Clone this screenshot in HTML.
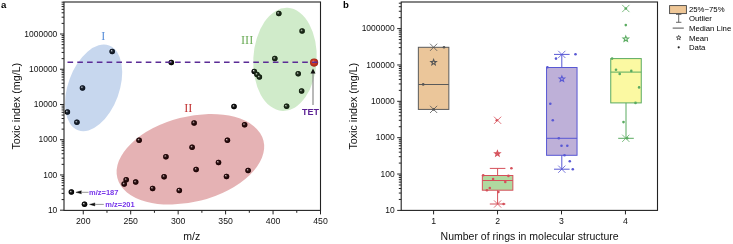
<!DOCTYPE html>
<html><head><meta charset="utf-8"><style>html,body{margin:0;padding:0;background:#fff;}svg{display:block;will-change:transform}</style></head>
<body><svg width="733" height="244" viewBox="0 0 733 244">
<rect width="733" height="244" fill="#fff"/>
<text x="103.3" y="39.8" font-family="Liberation Serif, serif" font-size="12.3" fill="#5a8fd9" text-anchor="middle">I</text>
<text x="188.3" y="111.8" font-family="Liberation Serif, serif" font-size="12.3" fill="#c23334" text-anchor="middle">II</text>
<text x="247.1" y="44.4" font-family="Liberation Serif, serif" font-size="12.3" fill="#6aab56" text-anchor="middle">III</text>
<defs><radialGradient id="bg" cx="0.5" cy="0.5" r="0.5" fx="0.34" fy="0.33"><stop offset="0" stop-color="#f2f2f2"/><stop offset="0.2" stop-color="#808080"/><stop offset="0.45" stop-color="#161616"/><stop offset="1" stop-color="#000"/></radialGradient>
<radialGradient id="rg" cx="0.5" cy="0.5" r="0.5" fx="0.36" fy="0.34"><stop offset="0" stop-color="#f2b8a8"/><stop offset="0.35" stop-color="#d2402a"/><stop offset="0.85" stop-color="#b02a1a"/><stop offset="1" stop-color="#982010"/></radialGradient></defs>
<circle cx="112.2" cy="51.5" r="2.75" fill="url(#bg)"/>
<circle cx="82.5" cy="87.9" r="2.75" fill="url(#bg)"/>
<circle cx="67.4" cy="112" r="2.75" fill="url(#bg)"/>
<circle cx="76.9" cy="122.3" r="2.75" fill="url(#bg)"/>
<circle cx="171.3" cy="62.5" r="2.75" fill="url(#bg)"/>
<circle cx="139.1" cy="140.2" r="2.75" fill="url(#bg)"/>
<circle cx="165.9" cy="156.7" r="2.75" fill="url(#bg)"/>
<circle cx="194.1" cy="122.9" r="2.75" fill="url(#bg)"/>
<circle cx="192.1" cy="147.2" r="2.75" fill="url(#bg)"/>
<circle cx="227.4" cy="140.3" r="2.75" fill="url(#bg)"/>
<circle cx="244.6" cy="124.8" r="2.75" fill="url(#bg)"/>
<circle cx="218.5" cy="162.5" r="2.75" fill="url(#bg)"/>
<circle cx="196.1" cy="169.5" r="2.75" fill="url(#bg)"/>
<circle cx="226.5" cy="176.4" r="2.75" fill="url(#bg)"/>
<circle cx="248.1" cy="170.5" r="2.75" fill="url(#bg)"/>
<circle cx="179.3" cy="190.5" r="2.75" fill="url(#bg)"/>
<circle cx="164.1" cy="176.7" r="2.75" fill="url(#bg)"/>
<circle cx="152.6" cy="188.4" r="2.75" fill="url(#bg)"/>
<circle cx="126.2" cy="179.8" r="2.75" fill="url(#bg)"/>
<circle cx="124.2" cy="184.1" r="2.75" fill="url(#bg)"/>
<circle cx="135.7" cy="182.1" r="2.75" fill="url(#bg)"/>
<circle cx="234" cy="106.6" r="2.75" fill="url(#bg)"/>
<circle cx="71.4" cy="192.1" r="2.75" fill="url(#bg)"/>
<circle cx="84.5" cy="204.3" r="2.75" fill="url(#bg)"/>
<circle cx="278.8" cy="13.5" r="2.75" fill="url(#bg)"/>
<circle cx="302.1" cy="31" r="2.75" fill="url(#bg)"/>
<circle cx="274.8" cy="58.6" r="2.75" fill="url(#bg)"/>
<circle cx="254.3" cy="71.4" r="2.75" fill="url(#bg)"/>
<circle cx="257.0" cy="74.5" r="2.75" fill="url(#bg)"/>
<circle cx="259.4" cy="77.1" r="2.75" fill="url(#bg)"/>
<circle cx="298.2" cy="73.8" r="2.75" fill="url(#bg)"/>
<circle cx="301.6" cy="91" r="2.75" fill="url(#bg)"/>
<circle cx="286.6" cy="106.3" r="2.75" fill="url(#bg)"/>
<ellipse cx="93.6" cy="87.9" rx="25.6" ry="45.2" transform="rotate(20 93.6 87.9)" fill="rgb(68,122,198)" fill-opacity="0.3"/>
<ellipse cx="190.4" cy="159.3" rx="75.4" ry="42.6" transform="rotate(-14.4 190.4 159.3)" fill="rgb(168,0,8)" fill-opacity="0.3"/>
<ellipse cx="285.0" cy="59.4" rx="31.7" ry="51.6" transform="rotate(3.0 285.0 59.4)" fill="rgb(98,188,78)" fill-opacity="0.3"/>
<g opacity="0.5">
<circle cx="112.2" cy="51.5" r="2.75" fill="url(#bg)"/>
<circle cx="82.5" cy="87.9" r="2.75" fill="url(#bg)"/>
<circle cx="67.4" cy="112" r="2.75" fill="url(#bg)"/>
<circle cx="76.9" cy="122.3" r="2.75" fill="url(#bg)"/>
<circle cx="171.3" cy="62.5" r="2.75" fill="url(#bg)"/>
<circle cx="139.1" cy="140.2" r="2.75" fill="url(#bg)"/>
<circle cx="165.9" cy="156.7" r="2.75" fill="url(#bg)"/>
<circle cx="194.1" cy="122.9" r="2.75" fill="url(#bg)"/>
<circle cx="192.1" cy="147.2" r="2.75" fill="url(#bg)"/>
<circle cx="227.4" cy="140.3" r="2.75" fill="url(#bg)"/>
<circle cx="244.6" cy="124.8" r="2.75" fill="url(#bg)"/>
<circle cx="218.5" cy="162.5" r="2.75" fill="url(#bg)"/>
<circle cx="196.1" cy="169.5" r="2.75" fill="url(#bg)"/>
<circle cx="226.5" cy="176.4" r="2.75" fill="url(#bg)"/>
<circle cx="248.1" cy="170.5" r="2.75" fill="url(#bg)"/>
<circle cx="179.3" cy="190.5" r="2.75" fill="url(#bg)"/>
<circle cx="164.1" cy="176.7" r="2.75" fill="url(#bg)"/>
<circle cx="152.6" cy="188.4" r="2.75" fill="url(#bg)"/>
<circle cx="126.2" cy="179.8" r="2.75" fill="url(#bg)"/>
<circle cx="124.2" cy="184.1" r="2.75" fill="url(#bg)"/>
<circle cx="135.7" cy="182.1" r="2.75" fill="url(#bg)"/>
<circle cx="234" cy="106.6" r="2.75" fill="url(#bg)"/>
<circle cx="71.4" cy="192.1" r="2.75" fill="url(#bg)"/>
<circle cx="84.5" cy="204.3" r="2.75" fill="url(#bg)"/>
<circle cx="278.8" cy="13.5" r="2.75" fill="url(#bg)"/>
<circle cx="302.1" cy="31" r="2.75" fill="url(#bg)"/>
<circle cx="274.8" cy="58.6" r="2.75" fill="url(#bg)"/>
<circle cx="254.3" cy="71.4" r="2.75" fill="url(#bg)"/>
<circle cx="257.0" cy="74.5" r="2.75" fill="url(#bg)"/>
<circle cx="259.4" cy="77.1" r="2.75" fill="url(#bg)"/>
<circle cx="298.2" cy="73.8" r="2.75" fill="url(#bg)"/>
<circle cx="301.6" cy="91" r="2.75" fill="url(#bg)"/>
<circle cx="286.6" cy="106.3" r="2.75" fill="url(#bg)"/>
</g>
<circle cx="314.1" cy="62.6" r="4.1" fill="url(#rg)"/>
<line x1="67.5" y1="62.2" x2="317.5" y2="62.2" stroke="#5b2b96" stroke-width="1.6" stroke-dasharray="5.6 4.18"/>
<line x1="313" y1="72.5" x2="313" y2="105" stroke="#8a8a8a" stroke-width="1.2"/>
<path d="M313 68.6 L310.5 73.4 L315.5 73.4 Z" fill="#111"/>
<text x="310.5" y="114.6" font-family="Liberation Sans, sans-serif" font-size="9" font-weight="bold" fill="#5a1f93" text-anchor="middle">TET</text>
<line x1="80" y1="192.3" x2="88.6" y2="192.3" stroke="#8c8c8c" stroke-width="0.9"/>
<path d="M75.9 192.3 L81.4 190.8 L81.0 192.3 L81.4 193.8 Z" fill="#0a0a0a" stroke="#0a0a0a" stroke-width="0.4" stroke-linejoin="round"/>
<text x="89" y="194.5" font-family="Liberation Sans, sans-serif" font-size="7.5" font-weight="bold" fill="#7634ea">m/z=187</text>
<line x1="93.5" y1="204.4" x2="103.8" y2="204.4" stroke="#8c8c8c" stroke-width="0.9"/>
<path d="M89.5 204.4 L95.0 202.9 L94.6 204.4 L95.0 205.9 Z" fill="#0a0a0a" stroke="#0a0a0a" stroke-width="0.4" stroke-linejoin="round"/>
<text x="105.3" y="206.7" font-family="Liberation Sans, sans-serif" font-size="7.5" font-weight="bold" fill="#7634ea">m/z=201</text>
<rect x="64.0" y="2.0" width="256.5" height="208.4" fill="none" stroke="#222" stroke-width="1.1"/>
<line x1="60.0" y1="210.20" x2="64.0" y2="210.20" stroke="#222" stroke-width="1"/>
<line x1="61.6" y1="199.59" x2="64.0" y2="199.59" stroke="#222" stroke-width="1"/>
<line x1="61.6" y1="193.39" x2="64.0" y2="193.39" stroke="#222" stroke-width="1"/>
<line x1="61.6" y1="188.98" x2="64.0" y2="188.98" stroke="#222" stroke-width="1"/>
<line x1="61.6" y1="185.57" x2="64.0" y2="185.57" stroke="#222" stroke-width="1"/>
<line x1="61.6" y1="182.78" x2="64.0" y2="182.78" stroke="#222" stroke-width="1"/>
<line x1="61.6" y1="180.42" x2="64.0" y2="180.42" stroke="#222" stroke-width="1"/>
<line x1="61.6" y1="178.38" x2="64.0" y2="178.38" stroke="#222" stroke-width="1"/>
<line x1="61.6" y1="176.57" x2="64.0" y2="176.57" stroke="#222" stroke-width="1"/>
<text transform="translate(57.3 212.85) scale(0.965 1)" font-family="Liberation Sans, sans-serif" font-size="8.8" fill="#111" text-anchor="end">10</text>
<line x1="60.0" y1="174.96" x2="64.0" y2="174.96" stroke="#222" stroke-width="1"/>
<line x1="61.6" y1="164.35" x2="64.0" y2="164.35" stroke="#222" stroke-width="1"/>
<line x1="61.6" y1="158.15" x2="64.0" y2="158.15" stroke="#222" stroke-width="1"/>
<line x1="61.6" y1="153.74" x2="64.0" y2="153.74" stroke="#222" stroke-width="1"/>
<line x1="61.6" y1="150.33" x2="64.0" y2="150.33" stroke="#222" stroke-width="1"/>
<line x1="61.6" y1="147.54" x2="64.0" y2="147.54" stroke="#222" stroke-width="1"/>
<line x1="61.6" y1="145.18" x2="64.0" y2="145.18" stroke="#222" stroke-width="1"/>
<line x1="61.6" y1="143.14" x2="64.0" y2="143.14" stroke="#222" stroke-width="1"/>
<line x1="61.6" y1="141.33" x2="64.0" y2="141.33" stroke="#222" stroke-width="1"/>
<text transform="translate(57.3 177.61) scale(0.965 1)" font-family="Liberation Sans, sans-serif" font-size="8.8" fill="#111" text-anchor="end">100</text>
<line x1="60.0" y1="139.72" x2="64.0" y2="139.72" stroke="#222" stroke-width="1"/>
<line x1="61.6" y1="129.11" x2="64.0" y2="129.11" stroke="#222" stroke-width="1"/>
<line x1="61.6" y1="122.91" x2="64.0" y2="122.91" stroke="#222" stroke-width="1"/>
<line x1="61.6" y1="118.50" x2="64.0" y2="118.50" stroke="#222" stroke-width="1"/>
<line x1="61.6" y1="115.09" x2="64.0" y2="115.09" stroke="#222" stroke-width="1"/>
<line x1="61.6" y1="112.30" x2="64.0" y2="112.30" stroke="#222" stroke-width="1"/>
<line x1="61.6" y1="109.94" x2="64.0" y2="109.94" stroke="#222" stroke-width="1"/>
<line x1="61.6" y1="107.90" x2="64.0" y2="107.90" stroke="#222" stroke-width="1"/>
<line x1="61.6" y1="106.09" x2="64.0" y2="106.09" stroke="#222" stroke-width="1"/>
<text transform="translate(57.3 142.37) scale(0.965 1)" font-family="Liberation Sans, sans-serif" font-size="8.8" fill="#111" text-anchor="end">1000</text>
<line x1="60.0" y1="104.48" x2="64.0" y2="104.48" stroke="#222" stroke-width="1"/>
<line x1="61.6" y1="93.87" x2="64.0" y2="93.87" stroke="#222" stroke-width="1"/>
<line x1="61.6" y1="87.67" x2="64.0" y2="87.67" stroke="#222" stroke-width="1"/>
<line x1="61.6" y1="83.26" x2="64.0" y2="83.26" stroke="#222" stroke-width="1"/>
<line x1="61.6" y1="79.85" x2="64.0" y2="79.85" stroke="#222" stroke-width="1"/>
<line x1="61.6" y1="77.06" x2="64.0" y2="77.06" stroke="#222" stroke-width="1"/>
<line x1="61.6" y1="74.70" x2="64.0" y2="74.70" stroke="#222" stroke-width="1"/>
<line x1="61.6" y1="72.66" x2="64.0" y2="72.66" stroke="#222" stroke-width="1"/>
<line x1="61.6" y1="70.85" x2="64.0" y2="70.85" stroke="#222" stroke-width="1"/>
<text transform="translate(57.3 107.13) scale(0.965 1)" font-family="Liberation Sans, sans-serif" font-size="8.8" fill="#111" text-anchor="end">10000</text>
<line x1="60.0" y1="69.24" x2="64.0" y2="69.24" stroke="#222" stroke-width="1"/>
<line x1="61.6" y1="58.63" x2="64.0" y2="58.63" stroke="#222" stroke-width="1"/>
<line x1="61.6" y1="52.43" x2="64.0" y2="52.43" stroke="#222" stroke-width="1"/>
<line x1="61.6" y1="48.02" x2="64.0" y2="48.02" stroke="#222" stroke-width="1"/>
<line x1="61.6" y1="44.61" x2="64.0" y2="44.61" stroke="#222" stroke-width="1"/>
<line x1="61.6" y1="41.82" x2="64.0" y2="41.82" stroke="#222" stroke-width="1"/>
<line x1="61.6" y1="39.46" x2="64.0" y2="39.46" stroke="#222" stroke-width="1"/>
<line x1="61.6" y1="37.42" x2="64.0" y2="37.42" stroke="#222" stroke-width="1"/>
<line x1="61.6" y1="35.61" x2="64.0" y2="35.61" stroke="#222" stroke-width="1"/>
<text transform="translate(57.3 71.89) scale(0.965 1)" font-family="Liberation Sans, sans-serif" font-size="8.8" fill="#111" text-anchor="end">100000</text>
<line x1="60.0" y1="34.00" x2="64.0" y2="34.00" stroke="#222" stroke-width="1"/>
<line x1="61.6" y1="23.39" x2="64.0" y2="23.39" stroke="#222" stroke-width="1"/>
<line x1="61.6" y1="17.19" x2="64.0" y2="17.19" stroke="#222" stroke-width="1"/>
<line x1="61.6" y1="12.78" x2="64.0" y2="12.78" stroke="#222" stroke-width="1"/>
<line x1="61.6" y1="9.37" x2="64.0" y2="9.37" stroke="#222" stroke-width="1"/>
<line x1="61.6" y1="6.58" x2="64.0" y2="6.58" stroke="#222" stroke-width="1"/>
<line x1="61.6" y1="4.22" x2="64.0" y2="4.22" stroke="#222" stroke-width="1"/>
<line x1="61.6" y1="2.18" x2="64.0" y2="2.18" stroke="#222" stroke-width="1"/>
<text transform="translate(57.3 36.65) scale(0.965 1)" font-family="Liberation Sans, sans-serif" font-size="8.8" fill="#111" text-anchor="end">1000000</text>
<line x1="83.25" y1="210.4" x2="83.25" y2="214.4" stroke="#222" stroke-width="1"/>
<text x="83.25" y="224" font-family="Liberation Sans, sans-serif" font-size="8.7" fill="#111" text-anchor="middle">200</text>
<line x1="106.97" y1="210.4" x2="106.97" y2="212.8" stroke="#222" stroke-width="1"/>
<line x1="130.70" y1="210.4" x2="130.70" y2="214.4" stroke="#222" stroke-width="1"/>
<text x="130.70" y="224" font-family="Liberation Sans, sans-serif" font-size="8.7" fill="#111" text-anchor="middle">250</text>
<line x1="154.43" y1="210.4" x2="154.43" y2="212.8" stroke="#222" stroke-width="1"/>
<line x1="178.15" y1="210.4" x2="178.15" y2="214.4" stroke="#222" stroke-width="1"/>
<text x="178.15" y="224" font-family="Liberation Sans, sans-serif" font-size="8.7" fill="#111" text-anchor="middle">300</text>
<line x1="201.88" y1="210.4" x2="201.88" y2="212.8" stroke="#222" stroke-width="1"/>
<line x1="225.60" y1="210.4" x2="225.60" y2="214.4" stroke="#222" stroke-width="1"/>
<text x="225.60" y="224" font-family="Liberation Sans, sans-serif" font-size="8.7" fill="#111" text-anchor="middle">350</text>
<line x1="249.32" y1="210.4" x2="249.32" y2="212.8" stroke="#222" stroke-width="1"/>
<line x1="273.05" y1="210.4" x2="273.05" y2="214.4" stroke="#222" stroke-width="1"/>
<text x="273.05" y="224" font-family="Liberation Sans, sans-serif" font-size="8.7" fill="#111" text-anchor="middle">400</text>
<line x1="296.77" y1="210.4" x2="296.77" y2="212.8" stroke="#222" stroke-width="1"/>
<line x1="320.50" y1="210.4" x2="320.50" y2="214.4" stroke="#222" stroke-width="1"/>
<text x="320.50" y="224" font-family="Liberation Sans, sans-serif" font-size="8.7" fill="#111" text-anchor="middle">450</text>
<text x="191.7" y="239.6" font-family="Liberation Sans, sans-serif" font-size="10.5" fill="#111" text-anchor="middle">m/z</text>
<text transform="translate(19.5 106.2) rotate(-90)" font-family="Liberation Sans, sans-serif" font-size="10.7" fill="#111" text-anchor="middle">Toxic index (mg/L)</text>
<text x="1" y="7.8" font-family="Liberation Sans, sans-serif" font-size="9.6" font-weight="bold" fill="#000">a</text>
<text x="342.9" y="7.9" font-family="Liberation Sans, sans-serif" font-size="9.6" font-weight="bold" fill="#000">b</text>
<text transform="translate(357.2 106.2) rotate(-90)" font-family="Liberation Sans, sans-serif" font-size="10.7" fill="#111" text-anchor="middle">Toxic index (mg/L)</text>
<text x="529.6" y="239.9" font-family="Liberation Sans, sans-serif" font-size="10.5" fill="#111" text-anchor="middle">Number of rings in molecular structure</text>
<rect x="418.35" y="47.3" width="30.5" height="62.10000000000001" fill="#ebc69a" stroke="#5a5a5a" stroke-width="1"/>
<line x1="418.35" y1="84.5" x2="448.85" y2="84.5" stroke="#5a5a5a" stroke-width="1"/>
<rect x="482.35" y="175.5" width="30.5" height="14.699999999999989" fill="#b0d9a0" stroke="#d5505a" stroke-width="1"/>
<line x1="482.35" y1="180.5" x2="512.85" y2="180.5" stroke="#d5505a" stroke-width="1"/>
<rect x="546.55" y="67.5" width="30.5" height="87.80000000000001" fill="#beb0d8" stroke="#5858d4" stroke-width="1"/>
<line x1="546.55" y1="138.3" x2="577.05" y2="138.3" stroke="#5858d4" stroke-width="1"/>
<rect x="610.75" y="58.6" width="30.5" height="44.300000000000004" fill="#fbf9a2" stroke="#5aab60" stroke-width="1"/>
<line x1="610.75" y1="72.1" x2="641.25" y2="72.1" stroke="#5aab60" stroke-width="1"/>
<path d="M430.0 43.699999999999996 L437.20000000000005 50.9 M430.0 50.9 L437.20000000000005 43.699999999999996" stroke="#555" stroke-width="0.8" fill="none"/>
<path d="M430.0 105.80000000000001 L437.20000000000005 113.0 M430.0 113.0 L437.20000000000005 105.80000000000001" stroke="#555" stroke-width="0.8" fill="none"/>
<polygon points="433.60,59.50 434.32,61.41 436.36,61.50 434.76,62.78 435.30,64.75 433.60,63.62 431.90,64.75 432.44,62.78 430.84,61.50 432.88,61.41" fill="none" stroke="#555" stroke-width="1.1"/>
<circle cx="444" cy="47.2" r="1.3" fill="#555"/>
<circle cx="423.2" cy="84.4" r="1.3" fill="#555"/>
<circle cx="433.8" cy="109.4" r="1.3" fill="#555"/>
<line x1="497.6" y1="175.5" x2="497.6" y2="168.4" stroke="#d5505a" stroke-width="1"/>
<line x1="489.8" y1="168.4" x2="505.40000000000003" y2="168.4" stroke="#d5505a" stroke-width="1"/>
<line x1="497.6" y1="190.2" x2="497.6" y2="204.0" stroke="#d5505a" stroke-width="1"/>
<line x1="489.8" y1="204.0" x2="505.40000000000003" y2="204.0" stroke="#d5505a" stroke-width="1"/>
<path d="M494.0 200.4 L501.20000000000005 207.6 M494.0 207.6 L501.20000000000005 200.4" stroke="#d5505a" stroke-width="0.8" fill="none"/>
<path d="M494.0 116.7 L501.20000000000005 123.89999999999999 M494.0 123.89999999999999 L501.20000000000005 116.7" stroke="#d5505a" stroke-width="0.8" fill="none"/>
<polygon points="497.40,150.70 498.12,152.61 500.16,152.70 498.56,153.98 499.10,155.95 497.40,154.82 495.70,155.95 496.24,153.98 494.64,152.70 496.68,152.61" fill="none" stroke="#d5505a" stroke-width="1.1"/>
<circle cx="511.4" cy="168.3" r="1.3" fill="#d5505a"/>
<circle cx="483.2" cy="175.3" r="1.3" fill="#d5505a"/>
<circle cx="493.1" cy="179.1" r="1.3" fill="#d5505a"/>
<circle cx="508.4" cy="175.9" r="1.3" fill="#d5505a"/>
<circle cx="505.3" cy="181.9" r="1.3" fill="#d5505a"/>
<circle cx="489.8" cy="188" r="1.3" fill="#d5505a"/>
<circle cx="486.9" cy="190.2" r="1.3" fill="#d5505a"/>
<circle cx="498.4" cy="192" r="1.3" fill="#d5505a"/>
<circle cx="503.6" cy="204" r="1.3" fill="#d5505a"/>
<circle cx="496.8" cy="120.3" r="1.3" fill="#d5505a"/>
<circle cx="497.4" cy="153.8" r="1.3" fill="#d5505a"/>
<line x1="561.8" y1="67.5" x2="561.8" y2="54.4" stroke="#5858d4" stroke-width="1"/>
<line x1="554.0" y1="54.4" x2="569.5999999999999" y2="54.4" stroke="#5858d4" stroke-width="1"/>
<line x1="561.8" y1="155.3" x2="561.8" y2="169.2" stroke="#5858d4" stroke-width="1"/>
<line x1="554.0" y1="169.2" x2="569.5999999999999" y2="169.2" stroke="#5858d4" stroke-width="1"/>
<path d="M558.1999999999999 50.8 L565.4 58.0 M558.1999999999999 58.0 L565.4 50.8" stroke="#5858d4" stroke-width="0.8" fill="none"/>
<path d="M558.1999999999999 165.6 L565.4 172.79999999999998 M558.1999999999999 172.79999999999998 L565.4 165.6" stroke="#5858d4" stroke-width="0.8" fill="none"/>
<polygon points="561.90,76.10 562.62,78.01 564.66,78.10 563.06,79.38 563.60,81.35 561.90,80.22 560.20,81.35 560.74,79.38 559.14,78.10 561.18,78.01" fill="none" stroke="#5858d4" stroke-width="1.1"/>
<circle cx="575.5" cy="54.2" r="1.3" fill="#5858d4"/>
<circle cx="556" cy="58.6" r="1.3" fill="#5858d4"/>
<circle cx="547.4" cy="67.3" r="1.3" fill="#5858d4"/>
<circle cx="550.3" cy="103.8" r="1.3" fill="#5858d4"/>
<circle cx="552.8" cy="120.3" r="1.3" fill="#5858d4"/>
<circle cx="558.8" cy="138.3" r="1.3" fill="#5858d4"/>
<circle cx="561.5" cy="145.7" r="1.3" fill="#5858d4"/>
<circle cx="567.3" cy="145.7" r="1.3" fill="#5858d4"/>
<circle cx="564.5" cy="155.2" r="1.3" fill="#5858d4"/>
<circle cx="569.8" cy="161.3" r="1.3" fill="#5858d4"/>
<circle cx="572.8" cy="169.2" r="1.3" fill="#5858d4"/>
<line x1="626.0" y1="102.9" x2="626.0" y2="138.3" stroke="#5aab60" stroke-width="1"/>
<line x1="618.2" y1="138.3" x2="633.8" y2="138.3" stroke="#5aab60" stroke-width="1"/>
<path d="M622.1999999999999 134.70000000000002 L629.4 141.9 M622.1999999999999 141.9 L629.4 134.70000000000002" stroke="#5aab60" stroke-width="0.8" fill="none"/>
<path d="M622.1999999999999 4.9 L629.4 12.1 M622.1999999999999 12.1 L629.4 4.9" stroke="#5aab60" stroke-width="0.8" fill="none"/>
<polygon points="625.80,36.10 626.52,38.01 628.56,38.10 626.96,39.38 627.50,41.35 625.80,40.22 624.10,41.35 624.64,39.38 623.04,38.10 625.08,38.01" fill="none" stroke="#5aab60" stroke-width="1.1"/>
<circle cx="625.8" cy="25.1" r="1.3" fill="#5aab60"/>
<circle cx="612.1" cy="58.6" r="1.3" fill="#5aab60"/>
<circle cx="616" cy="69.7" r="1.3" fill="#5aab60"/>
<circle cx="619.7" cy="73.9" r="1.3" fill="#5aab60"/>
<circle cx="631.3" cy="70.9" r="1.3" fill="#5aab60"/>
<circle cx="639.1" cy="87.4" r="1.3" fill="#5aab60"/>
<circle cx="635.5" cy="102.9" r="1.3" fill="#5aab60"/>
<circle cx="623.5" cy="122.1" r="1.3" fill="#5aab60"/>
<circle cx="627.2" cy="138.3" r="1.3" fill="#5aab60"/>
<circle cx="625.8" cy="8.5" r="1.3" fill="#5aab60"/>
<rect x="401.2" y="2.0" width="256.3" height="208.4" fill="none" stroke="#222" stroke-width="1.1"/>
<line x1="397.2" y1="210.40" x2="401.2" y2="210.40" stroke="#222" stroke-width="1"/>
<line x1="398.8" y1="199.45" x2="401.2" y2="199.45" stroke="#222" stroke-width="1"/>
<line x1="398.8" y1="193.05" x2="401.2" y2="193.05" stroke="#222" stroke-width="1"/>
<line x1="398.8" y1="188.51" x2="401.2" y2="188.51" stroke="#222" stroke-width="1"/>
<line x1="398.8" y1="184.99" x2="401.2" y2="184.99" stroke="#222" stroke-width="1"/>
<line x1="398.8" y1="182.11" x2="401.2" y2="182.11" stroke="#222" stroke-width="1"/>
<line x1="398.8" y1="179.67" x2="401.2" y2="179.67" stroke="#222" stroke-width="1"/>
<line x1="398.8" y1="177.56" x2="401.2" y2="177.56" stroke="#222" stroke-width="1"/>
<line x1="398.8" y1="175.70" x2="401.2" y2="175.70" stroke="#222" stroke-width="1"/>
<text transform="translate(394.6 213.05) scale(0.965 1)" font-family="Liberation Sans, sans-serif" font-size="8.8" fill="#111" text-anchor="end">10</text>
<line x1="397.2" y1="174.04" x2="401.2" y2="174.04" stroke="#222" stroke-width="1"/>
<line x1="398.8" y1="163.09" x2="401.2" y2="163.09" stroke="#222" stroke-width="1"/>
<line x1="398.8" y1="156.69" x2="401.2" y2="156.69" stroke="#222" stroke-width="1"/>
<line x1="398.8" y1="152.15" x2="401.2" y2="152.15" stroke="#222" stroke-width="1"/>
<line x1="398.8" y1="148.63" x2="401.2" y2="148.63" stroke="#222" stroke-width="1"/>
<line x1="398.8" y1="145.75" x2="401.2" y2="145.75" stroke="#222" stroke-width="1"/>
<line x1="398.8" y1="143.31" x2="401.2" y2="143.31" stroke="#222" stroke-width="1"/>
<line x1="398.8" y1="141.20" x2="401.2" y2="141.20" stroke="#222" stroke-width="1"/>
<line x1="398.8" y1="139.34" x2="401.2" y2="139.34" stroke="#222" stroke-width="1"/>
<text transform="translate(394.6 176.69) scale(0.965 1)" font-family="Liberation Sans, sans-serif" font-size="8.8" fill="#111" text-anchor="end">100</text>
<line x1="397.2" y1="137.68" x2="401.2" y2="137.68" stroke="#222" stroke-width="1"/>
<line x1="398.8" y1="126.73" x2="401.2" y2="126.73" stroke="#222" stroke-width="1"/>
<line x1="398.8" y1="120.33" x2="401.2" y2="120.33" stroke="#222" stroke-width="1"/>
<line x1="398.8" y1="115.79" x2="401.2" y2="115.79" stroke="#222" stroke-width="1"/>
<line x1="398.8" y1="112.27" x2="401.2" y2="112.27" stroke="#222" stroke-width="1"/>
<line x1="398.8" y1="109.39" x2="401.2" y2="109.39" stroke="#222" stroke-width="1"/>
<line x1="398.8" y1="106.95" x2="401.2" y2="106.95" stroke="#222" stroke-width="1"/>
<line x1="398.8" y1="104.84" x2="401.2" y2="104.84" stroke="#222" stroke-width="1"/>
<line x1="398.8" y1="102.98" x2="401.2" y2="102.98" stroke="#222" stroke-width="1"/>
<text transform="translate(394.6 140.33) scale(0.965 1)" font-family="Liberation Sans, sans-serif" font-size="8.8" fill="#111" text-anchor="end">1000</text>
<line x1="397.2" y1="101.32" x2="401.2" y2="101.32" stroke="#222" stroke-width="1"/>
<line x1="398.8" y1="90.37" x2="401.2" y2="90.37" stroke="#222" stroke-width="1"/>
<line x1="398.8" y1="83.97" x2="401.2" y2="83.97" stroke="#222" stroke-width="1"/>
<line x1="398.8" y1="79.43" x2="401.2" y2="79.43" stroke="#222" stroke-width="1"/>
<line x1="398.8" y1="75.91" x2="401.2" y2="75.91" stroke="#222" stroke-width="1"/>
<line x1="398.8" y1="73.03" x2="401.2" y2="73.03" stroke="#222" stroke-width="1"/>
<line x1="398.8" y1="70.59" x2="401.2" y2="70.59" stroke="#222" stroke-width="1"/>
<line x1="398.8" y1="68.48" x2="401.2" y2="68.48" stroke="#222" stroke-width="1"/>
<line x1="398.8" y1="66.62" x2="401.2" y2="66.62" stroke="#222" stroke-width="1"/>
<text transform="translate(394.6 103.97) scale(0.965 1)" font-family="Liberation Sans, sans-serif" font-size="8.8" fill="#111" text-anchor="end">10000</text>
<line x1="397.2" y1="64.96" x2="401.2" y2="64.96" stroke="#222" stroke-width="1"/>
<line x1="398.8" y1="54.01" x2="401.2" y2="54.01" stroke="#222" stroke-width="1"/>
<line x1="398.8" y1="47.61" x2="401.2" y2="47.61" stroke="#222" stroke-width="1"/>
<line x1="398.8" y1="43.07" x2="401.2" y2="43.07" stroke="#222" stroke-width="1"/>
<line x1="398.8" y1="39.55" x2="401.2" y2="39.55" stroke="#222" stroke-width="1"/>
<line x1="398.8" y1="36.67" x2="401.2" y2="36.67" stroke="#222" stroke-width="1"/>
<line x1="398.8" y1="34.23" x2="401.2" y2="34.23" stroke="#222" stroke-width="1"/>
<line x1="398.8" y1="32.12" x2="401.2" y2="32.12" stroke="#222" stroke-width="1"/>
<line x1="398.8" y1="30.26" x2="401.2" y2="30.26" stroke="#222" stroke-width="1"/>
<text transform="translate(394.6 67.61) scale(0.965 1)" font-family="Liberation Sans, sans-serif" font-size="8.8" fill="#111" text-anchor="end">100000</text>
<line x1="397.2" y1="28.60" x2="401.2" y2="28.60" stroke="#222" stroke-width="1"/>
<line x1="398.8" y1="17.65" x2="401.2" y2="17.65" stroke="#222" stroke-width="1"/>
<line x1="398.8" y1="11.25" x2="401.2" y2="11.25" stroke="#222" stroke-width="1"/>
<line x1="398.8" y1="6.71" x2="401.2" y2="6.71" stroke="#222" stroke-width="1"/>
<line x1="398.8" y1="3.19" x2="401.2" y2="3.19" stroke="#222" stroke-width="1"/>
<text transform="translate(394.6 31.25) scale(0.965 1)" font-family="Liberation Sans, sans-serif" font-size="8.8" fill="#111" text-anchor="end">1000000</text>
<line x1="433.6" y1="210.4" x2="433.6" y2="214.4" stroke="#222" stroke-width="1"/>
<text x="433.6" y="224" font-family="Liberation Sans, sans-serif" font-size="8.7" fill="#111" text-anchor="middle">1</text>
<line x1="497.55" y1="210.4" x2="497.55" y2="214.4" stroke="#222" stroke-width="1"/>
<text x="497.55" y="224" font-family="Liberation Sans, sans-serif" font-size="8.7" fill="#111" text-anchor="middle">2</text>
<line x1="561.5" y1="210.4" x2="561.5" y2="214.4" stroke="#222" stroke-width="1"/>
<text x="561.5" y="224" font-family="Liberation Sans, sans-serif" font-size="8.7" fill="#111" text-anchor="middle">3</text>
<line x1="625.45" y1="210.4" x2="625.45" y2="214.4" stroke="#222" stroke-width="1"/>
<text x="625.45" y="224" font-family="Liberation Sans, sans-serif" font-size="8.7" fill="#111" text-anchor="middle">4</text>
<rect x="669.6" y="5.6" width="16.8" height="8" fill="#efc797" stroke="#444" stroke-width="0.9"/>
<path d="M676 14.4 H681.4 M678.7 14.4 V22.3 M676 22.3 H681.4" stroke="#444" stroke-width="0.8" fill="none"/>
<line x1="672.7" y1="28.1" x2="683.8" y2="28.1" stroke="#222" stroke-width="0.8"/>
<polygon points="678.70,35.40 679.29,36.98 680.98,37.06 679.66,38.11 680.11,39.74 678.70,38.81 677.29,39.74 677.74,38.11 676.42,37.06 678.11,36.98" fill="none" stroke="#333" stroke-width="0.8"/>
<circle cx="678.7" cy="47.3" r="1.1" fill="#222"/>
<text x="689" y="12.25" font-family="Liberation Sans, sans-serif" font-size="7.75" fill="#000">25%~75%</text>
<text x="689" y="21.45" font-family="Liberation Sans, sans-serif" font-size="7.75" fill="#000">Outlier</text>
<text x="689" y="30.95" font-family="Liberation Sans, sans-serif" font-size="7.75" fill="#000">Median Line</text>
<text x="689" y="40.65" font-family="Liberation Sans, sans-serif" font-size="7.75" fill="#000">Mean</text>
<text x="689" y="50.05" font-family="Liberation Sans, sans-serif" font-size="7.75" fill="#000">Data</text>
</svg></body></html>
